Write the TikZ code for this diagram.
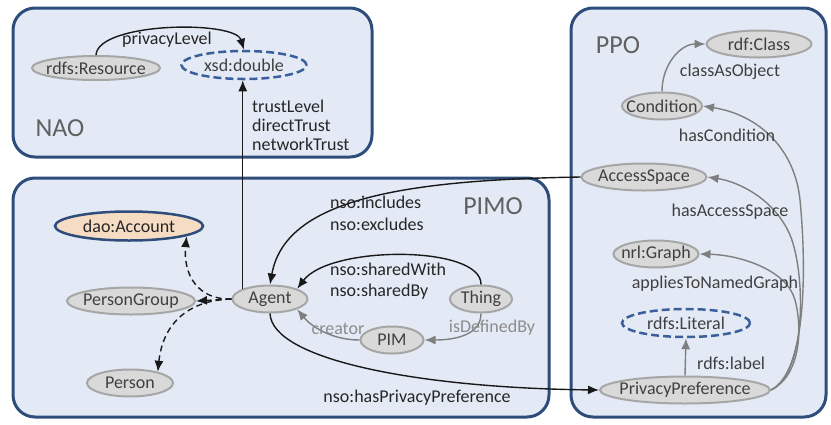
\documentclass[tikz,border=0pt]{standalone}
\usepackage{fontspec}
\setmainfont{Carlito}
\usetikzlibrary{shapes.geometric,arrows.meta}
\definecolor{boxfill}{HTML}{E3EAF5}
\definecolor{boxline}{HTML}{2E4D7B}
\definecolor{nfill}{HTML}{D9D9D9}
\definecolor{nline}{HTML}{A6A6A6}
\definecolor{ntext}{HTML}{404040}
\definecolor{dashblue}{HTML}{3A5F9A}
\definecolor{peach}{HTML}{F7DCC4}
\definecolor{gedge}{HTML}{7F7F7F}
\definecolor{ltext}{HTML}{8C8C8C}
\definecolor{bigtext}{HTML}{606060}
\newcommand\myNodeFont{\fontsize{18}{21}\selectfont}
\newcommand\myBigFont{\fontsize{26}{30}\selectfont}
\newcommand\zw[1]{\makebox[0pt]{#1}}
\begin{document}
\begin{tikzpicture}[x=1pt,y=-1pt,
  box/.style={rectangle, draw=boxline, fill=boxfill, line width=3pt, rounded corners=22pt, inner sep=0pt},
  ell/.style={ellipse, draw=nline, fill=nfill, line width=2pt, inner sep=0pt, text=ntext, font=\myNodeFont, minimum height=27pt},
  litnode/.style={ellipse, draw=dashblue, dash pattern=on 8pt off 4pt, line width=2.5pt, inner sep=0pt, text=ntext, font=\myNodeFont, minimum height=28pt},
  acctnode/.style={ellipse, draw=boxline, fill=peach, line width=2.5pt, inner sep=0pt, text=black!85, font=\myNodeFont, minimum height=29pt},
  blk/.style={draw=black!90, line width=1.4pt, -{Latex[length=11pt,width=9pt]}},
  gry/.style={draw=gedge, line width=1.4pt, -{Latex[length=11pt,width=9pt]}},
  dsh/.style={blk, dash pattern=on 6pt off 4pt},
  elab/.style={font=\myNodeFont, text=black!85, inner sep=0pt},
  big/.style={font=\myBigFont, text=bigtext, inner sep=0pt}
]
\useasboundingbox (0,0) rectangle (831,424);
\fill[white] (0,0) rectangle (831,424);

% containers
\node[box, minimum width=359pt, minimum height=149pt] (nao) at (192.5,82.5) {};
\node[box, minimum width=536pt, minimum height=239pt] (pimo) at (281,297.5) {};
\node[box, minimum width=255pt, minimum height=409pt] (ppo) at (698.5,212.5) {};

\node[big] (naolab) at (60,128) {NAO};
\node[big] (pimolab) at (493,206) {PIMO};
\node[big] (ppolab) at (618,45) {PPO};

% nodes
\node[ell, minimum width=128pt, minimum height=24pt] (res) at (96,68) {\zw{rdfs:Resource}};
\node[litnode, minimum width=125pt] (xsd) at (244,65) {\zw{xsd:double}};
\node[acctnode, minimum width=148pt] (acct) at (129,226) {\zw{dao:Account}};
\node[ell, minimum width=128pt] (pg) at (131,301) {\zw{PersonGroup}};
\node[ell, minimum width=75pt] (agent) at (270,299) {\zw{Agent}};
\node[ell, minimum width=86pt] (person) at (130,383) {\zw{Person}};
\node[ell, minimum width=62pt] (thing) at (481,299) {\zw{Thing}};
\node[ell, minimum width=63pt] (pim) at (392,340) {\zw{PIM}};
\node[ell, minimum width=105pt] (cls) at (759,44) {\zw{rdf:Class}};
\node[ell, minimum width=80pt] (cond) at (662,106) {\zw{Condition}};
\node[ell, minimum width=125pt] (acc) at (644,177) {\zw{AccessSpace}};
\node[ell, minimum width=85pt] (graph) at (656,254) {\zw{nrl:Graph}};
\node[litnode, minimum width=128pt] (literal) at (686,323) {\zw{rdfs:Literal}};
\node[ell, minimum width=170pt] (pp) at (685,390) {\zw{PrivacyPreference}};

% NAO edges
\draw[blk] (res.north) .. controls (98,22) and (235,20) .. (xsd.north);
\draw[blk] (agent.north west) -- (agent.north west |- xsd.south);

% PIMO edges
\draw[blk] (acc.west) .. controls (400,180) and (285,200) .. (agent.north);
\draw[blk] (thing.north) .. controls (482,245) and (330,245) .. (agent.north east);
\draw[gry] (pim.west) .. controls (330,340) and (310,325) .. (agent.south east);
\draw[gry] (thing.south) .. controls (481,335) and (455,340) .. (pim.east);
\draw[blk] (agent.south) .. controls (272,360) and (420,388) .. (pp.west);
\draw[dsh] (agent.west) -- (pg.east);
\draw[dsh] (agent.west) .. controls (198,300) and (183,275) .. (acct.-10);
\draw[dsh] (agent.west) .. controls (190,300) and (163,322) .. (person.22);

% PPO edges
\draw[gry] (cond.north) .. controls (662,65) and (680,44) .. (cls.west);
\draw[gry] (pp.north) -- (literal.south);
\draw[gry] (pp.east) .. controls (810,370) and (805,250) .. (800,200) .. controls (795,150) and (760,115) .. (cond.east);
\draw[gry] (pp.east) .. controls (808,372) and (805,270) .. (790,235) .. controls (775,200) and (740,182) .. (acc.east);
\draw[gry] (pp.east) .. controls (800,376) and (803,330) .. (795,300) .. controls (787,270) and (740,255) .. (graph.east);

% labels
\node[elab] (lpriv) at (167,40) {privacyLevel};
\node[elab, anchor=west, align=left, font=\fontsize{18}{19}\selectfont] (ltrust) at (252,125) {trustLevel\\directTrust\\networkTrust};
\node[elab, anchor=west, align=left, font=\fontsize{18}{22}\selectfont] (lincl) at (330,213) {nso:includes\\nso:excludes};
\node[elab, anchor=west, align=left, font=\fontsize{18}{21}\selectfont] (lshared) at (330,281) {nso:sharedWith\\nso:sharedBy};
\node[elab, text=ltext] (lcreator) at (338,329) {creator};
\node[elab, text=ltext] (ldef) at (492,328) {isDefinedBy};
\node[elab] (lhpp) at (417,398) {nso:hasPrivacyPreference};
\node[elab, text=ntext] (lcao) at (730,72) {classAsObject};
\node[elab, text=ntext] (lhc) at (727,135) {hasCondition};
\node[elab, text=ntext] (lhas) at (730,212) {hasAccessSpace};
\node[elab, text=ntext] (lapp) at (715,284) {appliesToNamedGraph};
\node[elab, text=ntext, anchor=west] (lrl) at (697,363) {rdfs:label};
\end{tikzpicture}
\end{document}
